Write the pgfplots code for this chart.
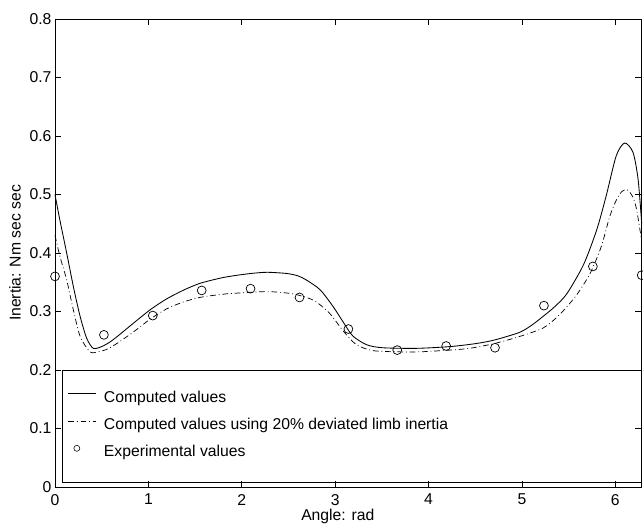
\documentclass[border=0pt]{standalone}
\usepackage{fontspec}
\setmainfont{Liberation Sans}
\usepackage{pgfplots}
\pgfplotsset{compat=1.18}

\pgfplotstableread{
x y
0 0.500
0.05 0.458
0.125 0.400
0.2 0.340
0.27 0.291
0.34 0.254
0.41 0.237
0.5 0.240
0.59 0.248
0.68 0.259
0.84 0.280
1.02 0.303
1.19 0.321
1.37 0.336
1.55 0.348
1.77 0.357
1.91 0.361
2.1 0.365
2.27 0.367
2.48 0.365
2.6 0.361
2.69 0.354
2.84 0.337
2.98 0.308
3.09 0.281
3.19 0.258
3.34 0.243
3.51 0.238
3.87 0.237
4.23 0.240
4.5 0.245
4.70 0.251
4.97 0.264
5.1 0.276
5.23 0.292
5.35 0.308
5.48 0.330
5.66 0.380
5.80 0.439
5.90 0.496
6.01 0.566
6.10 0.588
6.19 0.572
6.245 0.525
6.283 0.450
}\computed

\pgfplotstableread{
x y
0 0.430
0.053 0.394
0.125 0.354
0.196 0.303
0.27 0.257
0.375 0.231
0.46 0.231
0.55 0.235
0.66 0.245
0.84 0.265
1.02 0.287
1.19 0.304
1.37 0.316
1.55 0.324
1.77 0.329
1.91 0.331
2.27 0.334
2.55 0.330
2.77 0.319
2.94 0.297
3.09 0.266
3.23 0.243
3.41 0.233
3.69 0.231
3.9 0.231
4.23 0.234
4.44 0.237
4.70 0.245
4.97 0.257
5.23 0.272
5.40 0.294
5.58 0.327
5.73 0.365
5.85 0.411
5.94 0.462
6.01 0.490
6.07 0.505
6.13 0.508
6.19 0.495
6.23 0.473
6.283 0.420
}\deviated

\pgfplotstableread{
x y
0 0.360
0.524 0.260
1.047 0.293
1.571 0.336
2.094 0.339
2.618 0.324
3.142 0.270
3.665 0.234
4.189 0.241
4.712 0.238
5.236 0.310
5.760 0.377
6.283 0.362
}\experimental

\begin{document}
\begin{tikzpicture}
\begin{axis}[
  scale only axis,
  width=410.7pt, height=327.6pt,
  xmin=0, xmax=6.2832, ymin=0, ymax=0.8,
  xtick={0,1,2,3,4,5,6},
  ytick={0,0.1,0.2,0.3,0.4,0.5,0.6,0.7,0.8},
  yticklabel style={/pgf/number format/fixed, /pgf/number format/precision=1, xshift=1pt},
  xticklabel style={yshift=-1.5pt},
  /pgf/number format/assume math mode=true,
  tick align=inside,
  major tick length=4.5pt,
  tick style={black, line width=0.4pt},
  axis line style={line width=0.5pt},
  font=\fontsize{11}{13}\selectfont,
  xlabel={Angle: rad},
  ylabel={Inertia: Nm sec sec},
  xlabel style={at={(axis description cs:0.482,-0.064)}, anchor=center},
  ylabel style={at={(axis description cs:-0.068,0.5)}, anchor=center, rotate=0},
  clip=false,
  legend cell align=left,
  legend style={at={(axis cs:0.139,0.164)}, anchor=north west, draw=none, fill=none,
    inner sep=0pt, outer sep=0pt, row sep=8.9pt,
    nodes={inner sep=0pt, text height=8pt, text depth=2pt},
    font=\fontsize{11}{13}\selectfont},
]
\draw[line width=0.6pt] (axis cs:0.075,0.2) rectangle (axis cs:6.2832,0.007);
\addplot[black, line width=0.6pt, smooth, tension=0.45,
  legend image code/.code={\draw[black, line width=0.6pt] (0pt,3pt) -- (19.6pt,3pt); \path (24.6pt,0pt);}]
  table {\computed};
\addlegendentry{Computed values}
\addplot[black, line width=0.5pt, smooth, tension=0.45, dash pattern=on 4pt off 2pt on 0.6pt off 2pt,
  legend image code/.code={\draw[black, line width=0.5pt, dash pattern=on 4pt off 2pt on 0.6pt off 2pt] (0pt,3pt) -- (19.6pt,3pt); \path (24.6pt,0pt);}]
  table {\deviated};
\addlegendentry{Computed values using 20\% deviated limb inertia}
\addplot[only marks, mark=o, mark size=3.1pt, black, line width=0.5pt,
  legend image code/.code={\draw[black, line width=0.4pt] (5.9pt,3pt) circle (2.1pt); \path (0pt,0pt) (24.6pt,0pt);}]
  table {\experimental};
\addlegendentry{Experimental values}
\end{axis}
\pgfresetboundingbox
\path (current axis.south west) ++(-38.5pt,-26.6pt) coordinate (bbl);
\path (current axis.north east) ++(0.9pt,13.3pt) coordinate (btr);
\path[use as bounding box] (bbl) rectangle (btr);
\end{tikzpicture}
\end{document}
